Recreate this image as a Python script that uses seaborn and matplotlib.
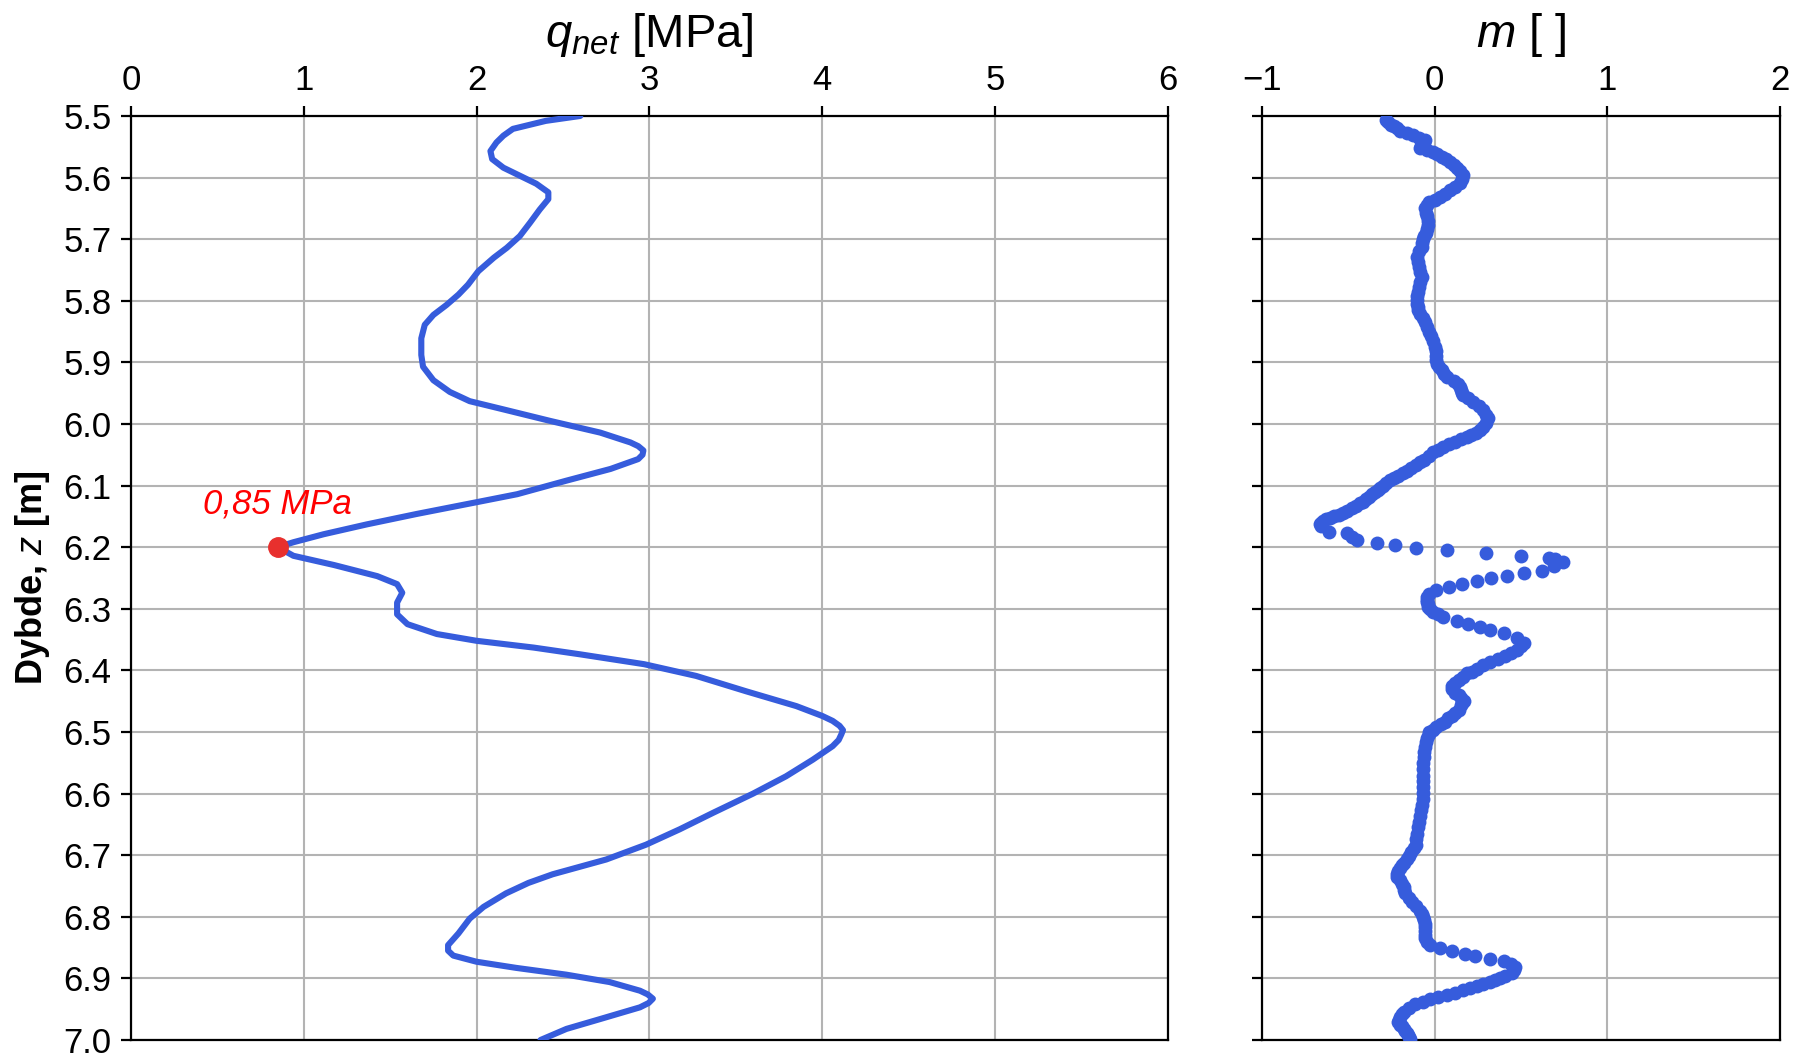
import numpy as np
import pandas as pd
import seaborn as sns
import matplotlib.pyplot as plt

# dybde [m] og netto spissmotstand q_net [MPa] (avlest fra figur)
q_depth = [5.500, 5.508, 5.521, 5.532, 5.543, 5.557, 5.570, 5.584, 5.597, 5.610,
           5.624, 5.635, 5.652, 5.673, 5.695, 5.714, 5.730, 5.752, 5.774, 5.790,
           5.807, 5.823, 5.839, 5.861, 5.888, 5.907, 5.929, 5.948, 5.963, 5.976,
           5.995, 6.014, 6.030, 6.036, 6.043, 6.050, 6.057, 6.073, 6.092, 6.114,
           6.127, 6.146, 6.163, 6.179, 6.192, 6.200, 6.214, 6.229, 6.247, 6.260,
           6.274, 6.290, 6.309, 6.325, 6.341, 6.352, 6.363, 6.374, 6.390, 6.409,
           6.434, 6.458, 6.474, 6.482, 6.490, 6.497, 6.504, 6.513, 6.523, 6.545,
           6.572, 6.600, 6.631, 6.658, 6.683, 6.707, 6.731, 6.745, 6.762, 6.784,
           6.803, 6.827, 6.846, 6.855, 6.863, 6.873, 6.883, 6.894, 6.906, 6.920,
           6.926, 6.933, 6.940, 6.947, 6.966, 6.982, 7.000]
q_net = [2.60, 2.40, 2.21, 2.155, 2.115, 2.08, 2.09, 2.155, 2.25, 2.345,
         2.415, 2.415, 2.365, 2.31, 2.25, 2.175, 2.10, 2.01, 1.95, 1.895,
         1.825, 1.75, 1.70, 1.68, 1.68, 1.69, 1.75, 1.845, 1.96, 2.15,
         2.425, 2.715, 2.89, 2.935, 2.965, 2.96, 2.935, 2.775, 2.52, 2.235,
         2.00, 1.655, 1.365, 1.115, 0.94, 0.85, 0.94, 1.175, 1.425, 1.54,
         1.57, 1.54, 1.54, 1.60, 1.77, 2.00, 2.33, 2.60, 2.97, 3.27,
         3.56, 3.85, 4.00, 4.06, 4.10, 4.12, 4.11, 4.095, 4.06, 3.945,
         3.79, 3.60, 3.37, 3.175, 2.98, 2.75, 2.44, 2.30, 2.17, 2.04,
         1.96, 1.895, 1.835, 1.835, 1.865, 2.00, 2.23, 2.52, 2.77, 2.945,
         2.99, 3.02, 2.995, 2.945, 2.715, 2.52, 2.37]

# minimumspunkt
min_q = 0.85
min_depth = 6.20

# m [ ] (avlest fra figur)
m_depth = [5.507, 5.510, 5.514, 5.517, 5.520, 5.525, 5.528, 5.531, 5.535, 5.539,
           5.543, 5.546, 5.549, 5.552, 5.555, 5.558, 5.562, 5.566, 5.570, 5.574,
           5.580, 5.585, 5.590, 5.596, 5.603, 5.609, 5.615, 5.620, 5.626, 5.631,
           5.636, 5.640, 5.645, 5.650, 5.657, 5.663, 5.670, 5.677, 5.684, 5.690,
           5.695, 5.700, 5.706, 5.712, 5.720, 5.729, 5.737, 5.745, 5.753, 5.761,
           5.769, 5.777, 5.785, 5.793, 5.799, 5.805, 5.810, 5.815, 5.821, 5.828,
           5.835, 5.842, 5.850, 5.858, 5.866, 5.875, 5.882, 5.890, 5.896, 5.902,
           5.908, 5.913, 5.919, 5.924, 5.930, 5.935, 5.940, 5.945, 5.949, 5.953,
           5.958, 5.964, 5.971, 5.978, 5.985, 5.991, 5.998, 6.005, 6.010, 6.014,
           6.018, 6.021, 6.025, 6.029, 6.033, 6.037, 6.042, 6.046, 6.052, 6.058,
           6.062, 6.067, 6.072, 6.076, 6.080, 6.084, 6.088, 6.091, 6.096, 6.100,
           6.104, 6.108, 6.111, 6.114, 6.118, 6.122, 6.126, 6.129, 6.133, 6.137,
           6.141, 6.144, 6.147, 6.150, 6.153, 6.155, 6.158, 6.160, 6.163, 6.166,
           6.175, 6.177, 6.183, 6.189, 6.193, 6.197, 6.202, 6.205, 6.210, 6.215,
           6.217, 6.219, 6.224, 6.231, 6.238, 6.242, 6.246, 6.250, 6.255, 6.259,
           6.264, 6.270, 6.276, 6.281, 6.285, 6.289, 6.293, 6.297, 6.301, 6.305,
           6.309, 6.313, 6.320, 6.325, 6.330, 6.334, 6.339, 6.347, 6.355, 6.361,
           6.367, 6.371, 6.376, 6.381, 6.386, 6.391, 6.397, 6.402, 6.405, 6.410,
           6.416, 6.420, 6.425, 6.431, 6.436, 6.440, 6.445, 6.449, 6.453, 6.457,
           6.464, 6.469, 6.474, 6.478, 6.483, 6.487, 6.492, 6.496, 6.500, 6.504,
           6.510, 6.516, 6.524, 6.533, 6.541, 6.550, 6.560, 6.571, 6.580, 6.590,
           6.599, 6.608, 6.618, 6.627, 6.636, 6.646, 6.655, 6.665, 6.674, 6.683,
           6.689, 6.695, 6.701, 6.707, 6.712, 6.716, 6.721, 6.726, 6.731, 6.735,
           6.741, 6.747, 6.752, 6.757, 6.762, 6.769, 6.776, 6.783, 6.790, 6.795,
           6.800, 6.806, 6.811, 6.817, 6.823, 6.829, 6.835, 6.841, 6.846, 6.851,
           6.856, 6.860, 6.864, 6.868, 6.872, 6.877, 6.882, 6.887, 6.892, 6.896,
           6.900, 6.903, 6.906, 6.909, 6.912, 6.916, 6.919, 6.923, 6.927, 6.931,
           6.934, 6.938, 6.942, 6.948, 6.954, 6.958, 6.962, 6.967, 6.971, 6.975,
           6.978, 6.982, 6.985, 6.989, 6.992, 6.995, 6.998]
m_val = [-0.28, -0.27, -0.25, -0.235, -0.22, -0.20, -0.16, -0.125, -0.09, -0.056,
         -0.063, -0.07, -0.078, -0.085, -0.045, -0.007, 0.015, 0.04, 0.065, 0.09,
         0.11, 0.13, 0.148, 0.166, 0.16, 0.147, 0.12, 0.09, 0.06, 0.03,
         0.0, -0.03, -0.045, -0.056, -0.05, -0.045, -0.04, -0.037, -0.045, -0.05,
         -0.06, -0.07, -0.072, -0.075, -0.09, -0.104, -0.097, -0.09, -0.082, -0.075,
         -0.083, -0.09, -0.098, -0.104, -0.102, -0.10, -0.097, -0.094, -0.082, -0.07,
         -0.058, -0.046, -0.033, -0.02, -0.008, 0.003, 0.006, 0.008, 0.01, 0.012,
         0.025, 0.04, 0.055, 0.07, 0.11, 0.138, 0.145, 0.15, 0.158, 0.166,
         0.195, 0.224, 0.255, 0.282, 0.30, 0.31, 0.30, 0.282, 0.26, 0.24,
         0.21, 0.186, 0.155, 0.12, 0.085, 0.05, 0.02, -0.01, -0.035, -0.06,
         -0.085, -0.11, -0.135, -0.16, -0.185, -0.21, -0.235, -0.26, -0.28, -0.30,
         -0.315, -0.33, -0.345, -0.36, -0.38, -0.40, -0.415, -0.43, -0.455, -0.48,
         -0.505, -0.53, -0.555, -0.58, -0.605, -0.63, -0.645, -0.66, -0.665, -0.66,
         -0.61, -0.51, -0.48, -0.45, -0.335, -0.23, -0.11, 0.07, 0.30, 0.50,
         0.66, 0.70, 0.745, 0.69, 0.62, 0.52, 0.42, 0.325, 0.245, 0.16,
         0.085, 0.01, -0.03, -0.046, -0.046, -0.045, -0.041, -0.037, -0.024, -0.01,
         0.02, 0.05, 0.128, 0.195, 0.26, 0.32, 0.40, 0.475, 0.52, 0.50,
         0.475, 0.445, 0.41, 0.365, 0.32, 0.28, 0.245, 0.215, 0.19, 0.165,
         0.14, 0.12, 0.10, 0.10, 0.12, 0.14, 0.155, 0.17, 0.16, 0.15,
         0.14, 0.12, 0.10, 0.08, 0.06, 0.035, 0.01, -0.01, -0.03, -0.035,
         -0.045, -0.05, -0.055, -0.06, -0.062, -0.065, -0.068, -0.07, -0.07, -0.07,
         -0.07, -0.07, -0.075, -0.08, -0.085, -0.09, -0.095, -0.10, -0.105, -0.11,
         -0.12, -0.135, -0.148, -0.16, -0.175, -0.19, -0.20, -0.21, -0.215, -0.22,
         -0.20, -0.19, -0.18, -0.175, -0.17, -0.15, -0.13, -0.107, -0.085, -0.075,
         -0.065, -0.06, -0.056, -0.056, -0.056, -0.056, -0.056, -0.045, -0.027, 0.03,
         0.10, 0.176, 0.234, 0.32, 0.40, 0.44, 0.466, 0.46, 0.446, 0.41,
         0.38, 0.35, 0.32, 0.28, 0.245, 0.205, 0.166, 0.12, 0.07, 0.02,
         -0.027, -0.07, -0.113, -0.15, -0.18, -0.19, -0.20, -0.205, -0.21, -0.20,
         -0.19, -0.18, -0.17, -0.162, -0.155, -0.148, -0.14]

blue = '#365CDC'
red_dot = '#E8302E'

sns.set_style('white')
plt.rcParams['font.family'] = ['Liberation Sans', 'DejaVu Sans']
plt.rcParams['mathtext.fontset'] = 'custom'
plt.rcParams['mathtext.rm'] = 'Liberation Sans'
plt.rcParams['mathtext.it'] = 'Liberation Sans:italic'
plt.rcParams['mathtext.bf'] = 'Liberation Sans:bold'
plt.rcParams['text.color'] = 'black'
plt.rcParams['axes.labelcolor'] = 'black'
plt.rcParams['xtick.color'] = 'black'
plt.rcParams['ytick.color'] = 'black'

df_q = pd.DataFrame({'z': q_depth, 'q': q_net})
df_m = pd.DataFrame({'z': m_depth, 'm': m_val})

fig = plt.figure(figsize=(18.01, 10.57), dpi=100)
ax1 = fig.add_axes([0.0727, 0.0161, 0.5758, 0.8742])
ax2 = fig.add_axes([0.7007, 0.0161, 0.2876, 0.8742])

sns.lineplot(data=df_q, x='q', y='z', sort=False, estimator=None,
             color=blue, linewidth=4.4, ax=ax1, zorder=3)
ax1.plot([min_q], [min_depth], 'o', color=red_dot, markersize=14, zorder=4)
ax1.text(min_q, min_depth - 0.07, '0,85 MPa', color='red', fontsize=25,
         style='italic', ha='center', va='center')

sns.scatterplot(data=df_m, x='m', y='z', color=blue, s=100, linewidth=0,
                ax=ax2, zorder=3)

for ax in (ax1, ax2):
    ax.set_ylim(7.0, 5.5)
    ax.set_yticks(np.arange(5.5, 7.01, 0.1))
    ax.xaxis.tick_top()
    ax.grid(True, color='#b3b3b3', linewidth=1.5)
    ax.tick_params(axis='both', which='major', direction='out', length=7,
                   width=1.6, color='black', labelcolor='black', labelsize=25,
                   pad=7, top=True, bottom=False, left=True, right=False)
    for sp in ax.spines.values():
        sp.set_visible(True)
        sp.set_color('black')
        sp.set_linewidth(1.6)
    ax.set_xlabel('')
    ax.set_ylabel('')

ax1.set_xlim(0, 6)
ax1.set_xticks(range(0, 7))
ax1.set_yticklabels([f'{v:.1f}' for v in np.arange(5.5, 7.01, 0.1)])
ax1.set_ylabel('Dybde, $z$ [m]', fontsize=26, fontweight='bold', labelpad=8)
ax1.set_title('$q_{net}$ [MPa]', fontsize=34, pad=12)

ax2.set_xlim(-1, 2)
ax2.set_xticks([-1, 0, 1, 2])
ax2.tick_params(axis='y', labelleft=False)
ax2.set_title('$m$ [ ]', fontsize=34, pad=12)

plt.savefig('out.png', dpi=100)
